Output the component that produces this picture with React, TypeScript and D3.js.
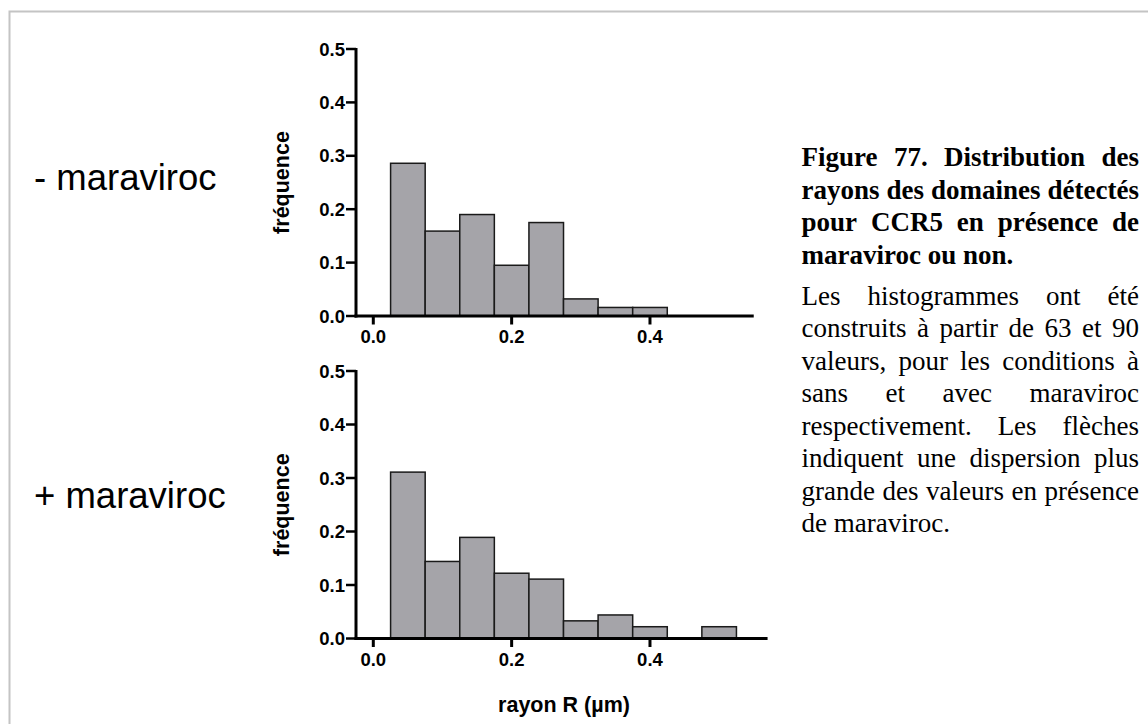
import React, { useEffect, useRef } from "react";
import * as d3 from "d3";

// ---- data ----
const binStarts = [0.025, 0.075, 0.125, 0.175, 0.225, 0.275, 0.325, 0.375, 0.425, 0.475];
const binWidth = 0.05;
const freqSans = [0.286, 0.159, 0.19, 0.095, 0.175, 0.032, 0.016, 0.016];
const freqAvec = [0.311, 0.144, 0.189, 0.122, 0.111, 0.033, 0.044, 0.022, 0, 0.022];
const yTicks = [0, 0.1, 0.2, 0.3, 0.4, 0.5];
const xTicks = [0, 0.2, 0.4];
const panelLabels = ["- maraviroc", "+ maraviroc"];
const yTitle = "fréquence";
const xTitle = "rayon R (µm)";
const captionBold = [
  "Figure 77. Distribution des",
  "rayons des domaines détectés",
  "pour CCR5 en présence de",
  "maraviroc ou non.",
];
const captionBody = [
  "Les histogrammes ont été",
  "construits à partir de 63 et 90",
  "valeurs, pour les conditions à",
  "sans et avec maraviroc",
  "respectivement. Les flèches",
  "indiquent une dispersion plus",
  "grande des valeurs en présence",
  "de maraviroc.",
];

const SANS = "'Liberation Sans', Arial, sans-serif";
const SERIF = "'Liberation Serif', 'Times New Roman', serif";

const panels = [
  { data: freqSans, xMax: 0.55, yTop: 49, yBottom: 316, labelY: 190 },
  { data: freqAvec, xMax: 0.57, yTop: 371, yBottom: 638.5, labelY: 508 },
];

const x0px = 373.3;
const pxPer = 691.7;

function Panel({ p }: { p: (typeof panels)[number] }) {
  const xMin = -0.025;
  const x = d3.scaleLinear().domain([xMin, p.xMax]).range([x0px + xMin * pxPer, x0px + p.xMax * pxPer]);
  const y = d3.scaleLinear().domain([0, 0.5]).range([p.yBottom, p.yTop]);
  const axisX = x(xMin);
  return (
    <g>
      {p.data.map((v, i) =>
        v > 0 ? (
          <rect
            key={i}
            x={x(binStarts[i])}
            y={y(v)}
            width={x(binStarts[i] + binWidth) - x(binStarts[i])}
            height={y(0) - y(v)}
            fill="#a5a4a9"
            stroke="#1a1a1a"
            strokeWidth={1.5}
          />
        ) : null
      )}
      {/* y axis */}
      <line x1={axisX} x2={axisX} y1={y(0.5) - 1} y2={y(0) + 1.5} stroke="#000" strokeWidth={3} />
      {yTicks.map((t) => (
        <g key={t}>
          <line x1={axisX - 10} x2={axisX} y1={y(t)} y2={y(t)} stroke="#000" strokeWidth={2.5} />
          <text
            x={axisX - 11}
            y={y(t) + 6.5}
            textAnchor="end"
            fontFamily={SANS}
            fontWeight="bold"
            fontSize={18.5}
          >
            {t.toFixed(1)}
          </text>
        </g>
      ))}
      {/* x axis */}
      <line x1={axisX - 1.5} x2={x(p.xMax)} y1={y(0)} y2={y(0)} stroke="#000" strokeWidth={3} />
      {xTicks.map((t) => (
        <g key={t}>
          <line x1={x(t)} x2={x(t)} y1={y(0)} y2={y(0) + 8.5} stroke="#000" strokeWidth={3} />
          <text
            x={x(t)}
            y={y(0) + 27}
            textAnchor="middle"
            fontFamily={SANS}
            fontWeight="bold"
            fontSize={18.5}
          >
            {t.toFixed(1)}
          </text>
        </g>
      ))}
      <text
        transform={`translate(289,${(p.yTop + p.yBottom) / 2}) rotate(-90)`}
        textAnchor="middle"
        fontFamily={SANS}
        fontWeight="bold"
        fontSize={21.5}
      >
        {yTitle}
      </text>
    </g>
  );
}

export default function App() {
  const capRef = useRef<SVGGElement>(null);

  useEffect(() => {
    const g = d3.select(capRef.current);
    g.selectAll("*").remove();
    const left = 801.5;
    const right = 1139;
    const lineH = 32.5;
    const fs = 27;
    const lines: { text: string; bold: boolean; justify: boolean; y: number }[] = [];
    captionBold.forEach((t, i) =>
      lines.push({ text: t, bold: true, justify: i < captionBold.length - 1, y: 166 + i * lineH })
    );
    captionBody.forEach((t, i) =>
      lines.push({ text: t, bold: false, justify: i < captionBody.length - 1, y: 304.5 + i * lineH })
    );
    lines.forEach((ln) => {
      const words = ln.text.split(" ");
      const nodes = words.map((w) =>
        g
          .append("text")
          .attr("y", ln.y)
          .attr("font-family", SERIF)
          .attr("font-size", fs)
          .attr("font-weight", ln.bold ? "bold" : "normal")
          .attr("fill", "#000")
          .text(w)
      );
      const widths = nodes.map((n) => (n.node() as SVGTextElement).getComputedTextLength());
      const total = widths.reduce((a, b) => a + b, 0);
      const normalGap = fs * 0.25;
      const gap =
        ln.justify && words.length > 1
          ? Math.max(normalGap * 0.6, (right - left - total) / (words.length - 1))
          : normalGap;
      let cx = left;
      nodes.forEach((n, i) => {
        n.attr("x", cx);
        cx += widths[i] + gap;
      });
    });
  }, []);

  return (
    <svg
      width={1148}
      height={724}
      style={{ position: "absolute", left: 0, top: 0, background: "#fff" }}
    >
      <rect x={0} y={0} width={1148} height={724} fill="#fff" />
      <path d="M9.5,740 L9.5,11.5 L1160,11.5" fill="none" stroke="#c4c4c4" strokeWidth={2} />
      {panels.map((p, i) => (
        <g key={i}>
          <Panel p={p} />
          <text x={34} y={p.labelY} fontFamily={SANS} fontSize={36.5} fill="#000">
            {panelLabels[i]}
          </text>
        </g>
      ))}
      <text x={564} y={712} textAnchor="middle" fontFamily={SANS} fontWeight="bold" fontSize={21.5}>
        {xTitle}
      </text>
      <g ref={capRef} />
    </svg>
  );
}
